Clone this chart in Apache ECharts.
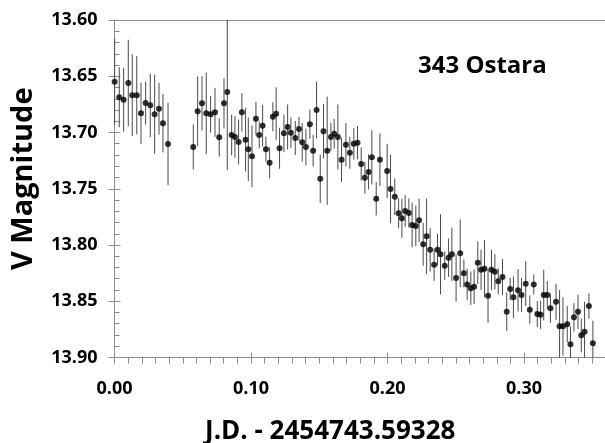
<!DOCTYPE html>
<html>
<head>
<meta charset="utf-8">
<script src="https://cdn.jsdelivr.net/npm/echarts@6/dist/echarts.min.js"></script>
<style>html,body{margin:0;padding:0;background:#fff;}#c{width:605px;height:443px;}</style>
</head>
<body>
<div id="c"></div>
<script>
// Time offsets (J.D. - 2454743.59328)
const jd = [
0.0001,0.0035,0.0067,0.0101,0.0130,0.0163,0.0194,0.0228,0.0262,0.0294,0.0326,0.0355,0.0392,
0.0577,0.0609,0.0641,0.0672,0.0704,0.0736,0.0767,0.0802,0.0826,0.0858,0.0882,0.0909,0.0933,0.0960,0.0980,
0.1007,0.1036,0.1060,0.1085,0.1109,0.1136,0.1160,0.1184,0.1209,0.1241,0.1268,0.1292,0.1324,0.1351,0.1375,
0.1402,0.1431,0.1455,0.1480,0.1507,0.1531,0.1558,0.1585,0.1609,0.1636,0.1663,0.1695,0.1724,0.1753,0.1780,
0.1807,0.1834,0.1861,0.1885,0.1917,0.1944,0.1997,0.2022,0.2053,0.2081,0.2105,0.2129,0.2156,0.2180,0.2207,
0.2231,0.2261,0.2286,0.2312,0.2341,0.2366,0.2388,0.2419,0.2447,0.2471,0.2502,0.2532,0.2559,0.2583,0.2610,
0.2634,0.2661,0.2685,0.2710,0.2736,0.2761,0.2786,0.2811,0.2842,0.2873,0.2898,0.2922,0.2956,0.2981,0.3012,
0.3042,0.3071,0.3097,0.3121,0.3144,0.3170,0.3193,0.3234,0.3260,0.3285,0.3316,0.3340,0.3365,0.3395,0.3419,
0.3443,0.3475,0.3504
];
// V magnitudes
const vmag = [
13.6549,13.6687,13.6709,13.6560,13.6669,13.6669,13.6829,13.6738,13.6758,13.6838,13.6789,13.6918,13.7102,
13.7129,13.6812,13.6741,13.6829,13.6838,13.6821,13.7043,13.6741,13.6640,13.7022,13.7040,13.7085,13.6821,13.7064,13.7149,
13.7212,13.6877,13.7022,13.6940,13.7149,13.7269,13.6860,13.6833,13.7140,13.7007,13.6951,13.7002,13.7049,13.6969,13.7087,
13.7129,13.6927,13.7162,13.6800,13.7411,13.6989,13.7162,13.7040,13.7011,13.7040,13.7242,13.7109,13.7180,13.7100,13.7091,
13.7280,13.7402,13.7351,13.7221,13.7589,13.7242,13.7342,13.7502,13.7571,13.7718,13.7763,13.7698,13.7716,13.7822,13.7831,
13.7781,13.7994,13.7923,13.8042,13.8175,13.8042,13.8083,13.8184,13.8113,13.8083,13.8294,13.8074,13.8252,13.8351,13.8385,
13.8371,13.8157,13.8220,13.8211,13.8451,13.8220,13.8238,13.8323,13.8285,13.8593,13.8391,13.8465,13.8402,13.8445,13.8344,
13.8575,13.8350,13.8614,13.8621,13.8445,13.8445,13.8563,13.8505,13.8723,13.8723,13.8704,13.8882,13.8643,13.8594,13.8803,
13.8772,13.8543,13.8874
];
// Error bar half-widths (mag)
const verr = [
0.0382,0.0267,0.0284,0.0385,0.0363,0.0348,0.0271,0.0192,0.0282,0.0352,0.0230,0.0259,0.0366,
0.0200,0.0311,0.0241,0.0363,0.0163,0.0218,0.0171,0.0222,0.0693,0.0181,0.0185,0.0200,0.0171,0.0282,0.0282,
0.0274,0.0148,0.0118,0.0185,0.0111,0.0138,0.0129,0.0234,0.0182,0.0168,0.0200,0.0138,0.0152,0.0107,0.0171,
0.0163,0.0130,0.0141,0.0252,0.0215,0.0240,0.0481,0.0126,0.0131,0.0289,0.0197,0.0193,0.0142,0.0141,0.0148,
0.0148,0.0141,0.0156,0.0241,0.0148,0.0234,0.0241,0.0304,0.0163,0.0133,0.0173,0.0141,0.0130,0.0198,0.0180,
0.0193,0.0190,0.0336,0.0193,0.0144,0.0141,0.0356,0.0126,0.0171,0.0237,0.0210,0.0302,0.0124,0.0141,0.0148,
0.0154,0.0189,0.0178,0.0255,0.0240,0.0178,0.0157,0.0116,0.0160,0.0171,0.0100,0.0185,0.0188,0.0151,0.0200,
0.0126,0.0089,0.0116,0.0126,0.0225,0.0122,0.0129,0.0160,0.0323,0.0260,0.0163,0.0156,0.0126,0.0152,0.0150,
0.0267,0.0114,0.0201
];
const xTickLabels = ['0.00','0.10','0.20','0.30'];
const yTickLabels = ['13.60','13.65','13.70','13.75','13.80','13.85','13.90'];
const titleText = '343 Ostara';
const xName = 'J.D. - 2454743.59328';
const yName = 'V Magnitude';

const pts = jd.map((x, i) => [x, vmag[i], verr[i]]);
const FONT = '"Open Sans", "DejaVu Sans", sans-serif';
const GRAY = '#8c8c8c';

const chart = echarts.init(document.getElementById('c'), null, {renderer: 'canvas'});
chart.setOption({
  animation: false,
  backgroundColor: '#ffffff',
  title: {
    text: titleText, left: 413, top: 49,
    textStyle: {fontFamily: FONT, fontWeight: 'bold', fontSize: 24, color: '#000'}
  },
  grid: {left: 114.5, top: 20, right: -1, bottom: 85.5, containLabel: false, outerBoundsMode: 'none'},
  xAxis: [
    {
      type: 'value', position: 'bottom', min: 0, max: 0.36, interval: 0.1,
      name: xName, nameLocation: 'middle', nameGap: 61,
      nameTextStyle: {fontFamily: FONT, fontWeight: 'bold', fontSize: 26, color: '#000', padding: [0, 60, 0, 0]},
      axisLine: {show: true, onZero: false, lineStyle: {color: GRAY, width: 1}},
      axisTick: {show: true, inside: false, length: 6, lineStyle: {color: GRAY}},
      minorTick: {show: true, splitNumber: 10, length: 6, lineStyle: {color: GRAY}},
      splitLine: {show: false},
      axisLabel: {
        margin: 22, showMaxLabel: false, fontFamily: FONT, fontWeight: 'bold', fontSize: 18, color: '#000',
        formatter: v => { const i = Math.round(v / 0.1); return xTickLabels[i] || ''; }
      }
    },
    {
      type: 'value', position: 'bottom', min: 0, max: 0.36, interval: 0.1,
      axisLine: {show: false},
      axisTick: {show: true, inside: true, length: 5, lineStyle: {color: GRAY}},
      axisLabel: {show: false}, splitLine: {show: false}
    },
    {
      type: 'value', position: 'top', min: 0, max: 0.36,
      axisLine: {show: true, onZero: false, lineStyle: {color: GRAY, width: 1}},
      axisTick: {show: false}, axisLabel: {show: false}, splitLine: {show: false}
    }
  ],
  yAxis: [
    {
      type: 'value', position: 'left', inverse: true, min: 13.6, max: 13.9, interval: 0.05,
      name: yName, nameLocation: 'middle', nameGap: 76, nameRotate: 90,
      nameTextStyle: {fontFamily: FONT, fontWeight: 'bold', fontSize: 29, color: '#000', padding: [0, 0, 0, 20]},
      axisLine: {show: true, onZero: false, lineStyle: {color: GRAY, width: 1}},
      axisTick: {show: true, inside: false, length: 6, lineStyle: {color: GRAY}},
      minorTick: {show: false},
      splitLine: {show: false},
      axisLabel: {
        margin: 17, fontFamily: FONT, fontWeight: 'bold', fontSize: 18, color: '#000',
        formatter: v => { const i = Math.round((v - 13.6) / 0.05); return yTickLabels[i] || ''; }
      }
    },
    {
      type: 'value', position: 'left', inverse: true, min: 13.6, max: 13.9, interval: 0.05,
      axisLine: {show: false},
      axisTick: {show: true, inside: true, length: 6, lineStyle: {color: GRAY}},
      minorTick: {show: true, splitNumber: 5, length: 5, lineStyle: {color: GRAY}},
      axisLabel: {show: false}, splitLine: {show: false}
    }
  ],
  series: [
    {
      type: 'custom', name: 'error', xAxisIndex: 0, yAxisIndex: 0, clip: true,
      data: pts,
      renderItem: function (params, api) {
        const x = api.value(0), y = api.value(1), e = api.value(2);
        const a = api.coord([x, y - e]);
        const b = api.coord([x, y + e]);
        return {type: 'line', shape: {x1: a[0], y1: a[1], x2: b[0], y2: b[1]},
                style: {stroke: '#4a4a4a', lineWidth: 1}};
      },
      z: 2
    },
    {
      type: 'scatter', name: 'V', xAxisIndex: 0, yAxisIndex: 0,
      data: pts.map(p => [p[0], p[1]]),
      symbol: 'circle', symbolSize: 6,
      itemStyle: {color: '#000'}, z: 3
    }
  ]
});
</script>
</body>
</html>
